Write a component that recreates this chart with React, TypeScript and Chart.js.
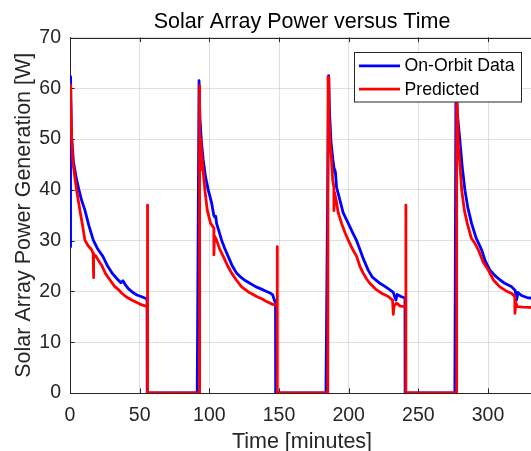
import React, { useEffect, useRef } from "react";
import { Chart, registerables } from "chart.js";

Chart.register(...registerables);

// ---------- data ----------
const orbitTime = [
  0, 0.4, 1.1, 2.5, 4.5, 6.4, 8.5, 10.7, 13.5, 16.7, 20.0, 23.6, 27.0, 30.5, 34.4, 36.5, 38.0, 39.5, 42.0, 45.1, 48.0, 51.0, 54.5, 55.3, 55.4, 91.3,
  92.6, 93.3, 94.3, 95.6, 97.3, 99.2, 101.6, 103.2, 104.0, 104.6, 105.2, 106.5, 108.8, 111.0, 113.5, 116.5, 119.6, 123.0, 126.0, 129.1, 133.5, 138.7, 143.5, 145.5, 147.0, 147.5, 147.6, 183.7,
  185.6, 186.3, 187.3, 188.7, 189.6, 190.1, 190.5, 191.3, 193.2, 196.0, 200.4, 203.0, 205.7, 208.0, 210.4, 214.0, 217.0, 222.4, 226.0, 229.6, 232.0, 233.9, 234.8, 237.5, 240.4, 240.5, 276.2,
  277.0, 278.0, 279.8, 281.5, 283.4, 285.5, 288.2, 291.5, 295.4, 298.0, 301.4, 305.0, 308.5, 312.0, 317.0, 319.5, 320.5, 321.5, 324.0, 328.0, 333.0,
];
const orbitPower = [
  28.8, 62.3, 50.5, 45.5, 42.3, 40.0, 37.8, 36.0, 33.0, 30.1, 28.3, 26.9, 25.0, 23.5, 22.3, 21.7, 22.1, 21.4, 20.5, 19.8, 19.3, 19.0, 18.6, 18.3, 0, 0,
  61.5, 54.0, 49.5, 45.9, 42.5, 40.0, 37.5, 35.0, 34.6, 34.8, 33.4, 32.2, 30.1, 28.5, 26.9, 25.0, 23.6, 22.7, 22.1, 21.6, 20.9, 20.3, 19.7, 19.3, 18.0, 18.2, 0, 0,
  62.5, 55.0, 49.5, 45.9, 44.0, 43.3, 43.5, 40.5, 38.5, 35.5, 33.0, 31.5, 30.0, 28.3, 26.5, 24.2, 22.8, 21.6, 21.0, 20.3, 19.8, 18.3, 19.4, 19.0, 18.7, 0, 0,
  62.0, 55.0, 49.8, 44.5, 40.0, 36.5, 33.4, 30.5, 28.2, 26.0, 24.2, 23.1, 22.3, 21.6, 20.9, 20.2, 18.3, 19.8, 19.2, 18.8, 18.6,
];
const predTime = [
  0, 0.5, 1.2, 1.9, 3.2, 4.7, 7.1, 9.0, 10.7, 13.0, 15.5, 16.6, 16.7, 17.2, 18.5, 20.2, 23.0, 25.5, 28.6, 32.0, 35.0, 37.0, 40.0, 44.2, 48.0, 51.0, 54.5, 55.6, 55.6, 55.7, 92.7,
  92.8, 93.2, 93.5, 93.8, 94.5, 95.6, 96.8, 98.5, 100.9, 103.2, 103.3, 103.6, 105.2, 107.5, 110.0, 113.0, 116.0, 119.5, 123.2, 128.0, 134.0, 138.0, 141.1, 145.0, 147.8, 148.7, 148.7, 148.8, 185.0,
  185.2, 185.8, 186.7, 187.7, 188.5, 189.4, 189.4, 189.8, 191.0, 192.5, 194.9, 197.3, 199.7, 203.0, 205.7, 208.0, 210.4, 213.0, 215.2, 220.0, 224.0, 228.4, 231.5, 232.0, 232.6, 234.4, 237.0, 240.4, 241.0, 241.0, 241.1, 277.3,
  277.5, 278.6, 281.1, 283.0, 285.1, 288.0, 290.5, 293.0, 296.5, 300.2, 304.0, 308.5, 313.0, 317.0, 319.2, 319.3, 320.0, 321.0, 325.0, 333.0,
];
const predPower = [
  60.6, 58.0, 50.0, 46.0, 43.0, 40.0, 36.0, 33.0, 30.1, 29.0, 28.2, 27.5, 22.7, 27.3, 27.0, 26.2, 25.0, 23.5, 22.3, 21.0, 20.3, 19.7, 19.0, 18.3, 17.8, 17.4, 17.1, 17.0, 37.0, 0, 0,
  60.5, 52.0, 44.0, 50.0, 47.0, 43.5, 40.0, 36.0, 33.4, 32.5, 27.2, 31.0, 30.1, 28.3, 26.9, 25.1, 23.6, 22.2, 20.9, 19.9, 19.0, 18.5, 18.0, 17.5, 17.3, 17.2, 28.8, 0, 0,
  62.2, 55.0, 49.0, 45.9, 42.0, 40.5, 35.9, 39.5, 38.0, 35.5, 33.4, 31.6, 30.1, 28.2, 26.9, 25.0, 23.6, 22.4, 21.6, 20.3, 19.6, 19.0, 18.3, 15.5, 17.2, 17.7, 17.1, 17.0, 17.0, 37.0, 0, 0,
  60.0, 49.8, 40.0, 36.0, 33.4, 30.5, 29.5, 28.2, 25.8, 24.2, 22.2, 20.9, 20.1, 19.6, 19.0, 15.7, 17.8, 17.0, 16.9, 16.8,
];

const xTicks = [0, 50, 100, 150, 200, 250, 300];
const yTicks = [0, 10, 20, 30, 40, 50, 60, 70];
const seriesLabels = ["On-Orbit Data", "Predicted"];
const seriesColors = ["#0000ff", "#ff0000"];
const titleText = "Solar Array Power versus Time";
const xLabel = "Time [minutes]";
const yLabel = "Solar Array Power Generation [W]";

// ---------- style ----------
const FONT = '"Liberation Sans", Arial, Helvetica, sans-serif';
const AXIS = "#262626";
const GRID = "rgba(38,38,38,0.15)";
const LINE_W = 2.8;

const zip = (xs: number[], ys: number[]) => xs.map((x, i) => ({ x, y: ys[i] }));

const frame = {
  id: "matlabFrame",
  beforeDatasetsDraw(chart: any) {
    const { ctx, chartArea: a, scales } = chart;
    ctx.save();
    ctx.strokeStyle = AXIS;
    ctx.lineWidth = 1;
    ctx.beginPath();
    const ty = Math.round(a.top) + 0.5;
    ctx.moveTo(a.left, ty);
    ctx.lineTo(a.right, ty);
    const tl = 4.6;
    for (const v of xTicks) {
      const px = Math.round(scales.x.getPixelForValue(v)) + 0.5;
      ctx.moveTo(px, a.bottom);
      ctx.lineTo(px, a.bottom - tl);
      ctx.moveTo(px, a.top);
      ctx.lineTo(px, a.top + tl);
    }
    for (const v of yTicks) {
      const py = Math.round(scales.y.getPixelForValue(v)) + 0.5;
      ctx.moveTo(a.left, py);
      ctx.lineTo(a.left + tl, py);
    }
    ctx.stroke();
    ctx.restore();
  },
  afterDatasetsDraw(chart: any) {
    const { ctx } = chart;
    const bx = 354.5, by = 52.5, bw = 167, bh = 49.5;
    ctx.save();
    ctx.fillStyle = "#ffffff";
    ctx.fillRect(bx, by, bw, bh);
    ctx.strokeStyle = "#262626";
    ctx.lineWidth = 1;
    ctx.strokeRect(bx, by, bw, bh);
    const rows = [65.8, 89.2];
    chart.data.datasets.forEach((ds: any, i: number) => {
      const y = rows[i];
      ctx.strokeStyle = ds.borderColor;
      ctx.lineWidth = LINE_W;
      ctx.beginPath();
      ctx.moveTo(359, y);
      ctx.lineTo(400, y);
      ctx.stroke();
      ctx.fillStyle = "#000000";
      ctx.font = `17.7px ${FONT}`;
      ctx.textBaseline = "middle";
      ctx.textAlign = "left";
      ctx.fillText(ds.label, 404.5, y + 0.5);
    });
    ctx.restore();
  },
};

export default function App() {
  const ref = useRef<HTMLCanvasElement>(null);
  useEffect(() => {
    document.body.style.margin = "0";
    const canvas = ref.current!;
    const chart = new Chart(canvas, {
      type: "line",
      data: {
        datasets: [
          {
            label: seriesLabels[0],
            data: zip(orbitTime, orbitPower),
            borderColor: seriesColors[0],
            backgroundColor: seriesColors[0],
            borderWidth: LINE_W,
            pointRadius: 0,
            tension: 0,
            borderJoinStyle: "round",
            borderCapStyle: "round",
            order: 2,
          },
          {
            label: seriesLabels[1],
            data: zip(predTime, predPower),
            borderColor: seriesColors[1],
            backgroundColor: seriesColors[1],
            borderWidth: LINE_W,
            pointRadius: 0,
            tension: 0,
            borderJoinStyle: "round",
            borderCapStyle: "round",
            order: 1,
          },
        ],
      },
      options: {
        responsive: false,
        animation: false,
        devicePixelRatio: 1,
        events: [],
        layout: { padding: { left: 0, right: 6, top: 0, bottom: 0 } },
        plugins: {
          legend: { display: false },
          tooltip: { enabled: false },
          title: {
            display: true,
            text: titleText,
            fullSize: false,
            color: "#000000",
            font: { family: FONT, size: 21.5, weight: "normal", lineHeight: 1.2 },
            padding: { top: 9, bottom: 2.7 },
          },
        },
        scales: {
          x: {
            type: "linear",
            min: 0,
            max: 333,
            afterBuildTicks: (s: any) => {
              s.ticks = xTicks.map((v) => ({ value: v }));
            },
            afterFit: (s: any) => {
              s.height = 58;
            },
            grid: { color: GRID, drawTicks: false, lineWidth: 1 },
            border: { display: true, color: AXIS, width: 1 },
            ticks: {
              color: AXIS,
              font: { family: FONT, size: 19.5 },
              padding: 11,
              maxRotation: 0,
              autoSkip: false,
            },
            title: {
              display: true,
              text: xLabel,
              color: AXIS,
              font: { family: FONT, size: 21.5, lineHeight: 1 },
              padding: { top: 0, bottom: -2 },
            },
          },
          y: {
            type: "linear",
            min: 0,
            max: 70,
            afterBuildTicks: (s: any) => {
              s.ticks = yTicks.map((v) => ({ value: v }));
            },
            afterFit: (s: any) => {
              s.width = 70;
            },
            grid: { color: GRID, drawTicks: false, lineWidth: 1 },
            border: { display: true, color: AXIS, width: 1 },
            ticks: {
              color: AXIS,
              font: { family: FONT, size: 19.5 },
              padding: 9,
              autoSkip: false,
            },
            title: {
              display: true,
              text: yLabel,
              color: AXIS,
              font: { family: FONT, size: 21.5, lineHeight: 1.2 },
              padding: { top: 11, bottom: 0 },
            },
          },
        },
      },
      plugins: [frame],
    } as any);
    return () => chart.destroy();
  }, []);

  return (
    <div
      style={{
        position: "fixed",
        left: 0,
        top: 0,
        width: 531,
        height: 451,
        overflow: "hidden",
        background: "#ffffff",
      }}
    >
      <canvas ref={ref} width={540} height={451} style={{ display: "block" }} />
    </div>
  );
}
